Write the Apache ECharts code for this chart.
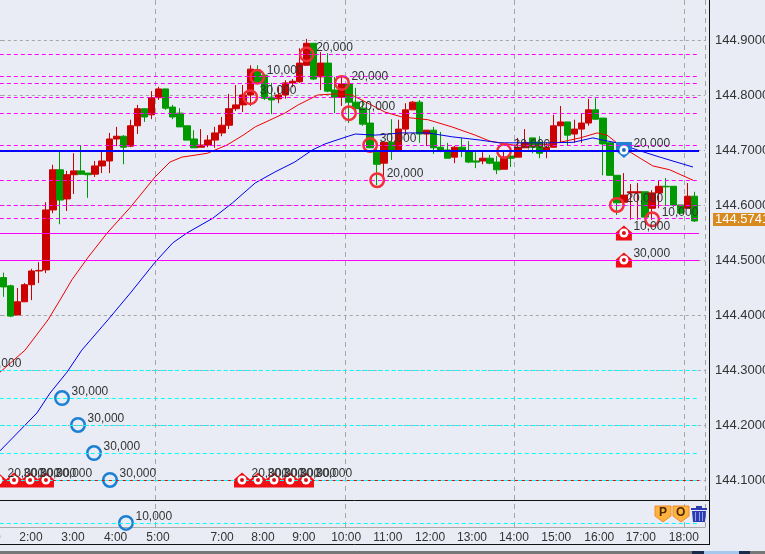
<!DOCTYPE html>
<html>
<head>
<meta charset="utf-8">
<style>
  html, body { margin: 0; padding: 0; background: #e9ecf5; overflow: hidden; width: 765px; height: 554px; }
  /* chart is wider than the window: the first bars are scrolled off to the left */
  #chart { position: absolute; left: -29px; top: 0; width: 794px; height: 554px; }
</style>
<script src="https://cdn.jsdelivr.net/npm/echarts@6/dist/echarts.min.js"></script>
</head>
<body>
<div id="chart"></div>
<script>
// bars, oldest first: [open, close, low, high] (10 minute bars, some missing)
const bars = [
  [144.468,144.451,144.433,144.477],[144.453,144.398,144.396,144.455],[144.400,144.424,144.400,144.449],
  [144.424,144.455,144.424,144.458],[144.455,144.480,144.427,144.484],[144.480,144.481,144.458,144.496],
  [144.482,144.591,144.476,144.605],[144.591,144.664,144.585,144.673],[144.664,144.609,144.565,144.698],
  [144.611,144.655,144.589,144.662],[144.655,144.662,144.620,144.694],[144.662,144.656,144.655,144.709],
  [144.658,144.655,144.613,144.658],[144.656,144.671,144.651,144.680],[144.671,144.680,144.658,144.698],
  [144.680,144.720,144.658,144.731],[144.720,144.725,144.707,144.742],[144.725,144.705,144.674,144.727],
  [144.707,144.744,144.705,144.755],[144.744,144.775,144.729,144.782],[144.775,144.760,144.751,144.775],
  [144.764,144.795,144.756,144.807],[144.795,144.811,144.791,144.815],[144.811,144.776,144.773,144.811],
  [144.778,144.760,144.756,144.782],[144.767,144.742,144.742,144.776],[144.744,144.718,144.718,144.744],
  [144.720,144.704,144.704,144.736],[144.705,144.709,144.705,144.738],[144.709,144.718,144.705,144.727],
  [144.718,144.731,144.704,144.742],[144.731,144.745,144.725,144.760],[144.745,144.775,144.738,144.802],
  [144.775,144.782,144.771,144.818],[144.782,144.800,144.769,144.818],[144.800,144.847,144.780,144.854],
  [144.845,144.822,144.822,144.854],[144.836,144.794,144.791,144.836],[144.796,144.791,144.765,144.822],
  [144.793,144.800,144.785,144.815],[144.800,144.822,144.793,144.827],[144.822,144.825,144.814,144.829],
  [144.824,144.858,144.822,144.885],[144.854,144.894,144.854,144.902],[144.894,144.829,144.827,144.894],
  [144.833,144.858,144.809,144.878],[144.858,144.807,144.805,144.876],[144.809,144.796,144.767,144.833],
  [144.796,144.820,144.780,144.834],[144.820,144.787,144.749,144.831],[144.787,144.775,144.771,144.813],
  [144.776,144.747,144.744,144.791],[144.749,144.704,144.704,144.776],[144.696,144.674,144.636,144.704],
  [144.676,144.714,144.645,144.714],[144.714,144.698,144.682,144.756],[144.700,144.738,144.700,144.755],
  [144.738,144.773,144.727,144.785],[144.773,144.787,144.773,144.789],[144.787,144.729,144.713,144.791],
  [144.729,144.736,144.707,144.736],[144.736,144.704,144.693,144.742],[144.705,144.698,144.696,144.733],
  [144.700,144.685,144.685,144.713],[144.687,144.705,144.676,144.707],[144.705,144.698,144.687,144.722],
  [144.698,144.678,144.676,144.716],[144.680,144.678,144.667,144.696],[144.680,144.685,144.674,144.696],
  [144.685,144.676,144.674,144.691],[144.678,144.664,144.656,144.689],[144.665,144.687,144.665,144.698],
  [144.689,144.685,144.669,144.698],[144.687,144.705,144.687,144.722],[144.704,144.713,144.704,144.738],
  [144.722,144.705,144.694,144.722],[144.714,144.694,144.685,144.725],[144.700,144.705,144.685,144.714],
  [144.705,144.744,144.705,144.764],[144.744,144.751,144.713,144.780],[144.751,144.727,144.709,144.751],
  [144.729,144.738,144.713,144.755],[144.738,144.749,144.713,144.767],[144.749,144.773,144.744,144.793],
  [144.773,144.756,144.755,144.794],[144.758,144.711,144.654,144.758],[144.713,144.654,144.653,144.713],
  [144.654,144.604,144.582,144.654],[144.605,144.618,144.605,144.658],[144.622,144.624,144.573,144.638],
  [144.622,144.624,144.573,144.640],[144.624,144.578,144.578,144.624],[144.594,144.622,144.573,144.627],
  [144.622,144.634,144.594,144.645],[144.634,144.633,144.600,144.649],[144.634,144.600,144.596,144.634],
  [144.600,144.585,144.585,144.600],[144.594,144.616,144.594,144.640],[144.616,144.571,144.569,144.624]
];
const leadingSlots = 4;   // bars scrolled off the left edge
const trailingSlots = 1;  // empty slot after the last bar
const gridLineBars = [22, 49, 73, 97];

// moving averages: [bar position, price]
const maFast = [
  [-0.5,144.296],[3.05,144.336],[6.3,144.391],[8,144.427],[9.7,144.464],[12,144.505],[14.7,144.549],[18,144.596],
  [21.5,144.651],[23.6,144.678],[25.3,144.687],[28.9,144.694],[31.7,144.709],[34,144.727],[35.7,144.742],[39.9,144.767],
  [41.8,144.782],[44.6,144.800],[47,144.802],[49.4,144.800],[51.7,144.785],[54.1,144.769],[56.5,144.760],[60.2,144.755],
  [63.6,144.742],[66.9,144.727],[69,144.716],[72.3,144.709],[75.4,144.707],[78.9,144.714],[81.8,144.722],[84.2,144.731],
  [85.6,144.727],[87.9,144.704],[90.3,144.685],[92.1,144.671],[94.5,144.664],[97.8,144.645]
];
const maSlow = [
  [-0.5,144.153],[4.75,144.222],[6.6,144.258],[9,144.296],[11.1,144.336],[14.8,144.391],[18,144.440],[21.5,144.496],
  [24,144.531],[26,144.549],[29.7,144.576],[32.5,144.604],[35.7,144.640],[38.5,144.660],[41.3,144.678],[43.8,144.700],
  [45.6,144.711],[48.9,144.725],[49.9,144.729],[52.7,144.727],[56.5,144.731],[60.2,144.731],[63.6,144.724],[67.6,144.718],
  [70.4,144.713],[77.1,144.713],[80.8,144.714],[83.6,144.722],[85,144.718],[87,144.713],[89.9,144.700],[93.1,144.687],[97.8,144.669]
];

// price levels
const dashedMagenta = [144.8736,144.8336,144.8209,144.7954,144.7663,144.7082,144.6972,144.6445,144.5991,144.5754];
const solidMagenta = [144.5481,144.4991];
const dashedCyan = [144.2991,144.2481,144.1990,144.1481,144.0990,144.0209];
const redLevel = 144.0990;
const blueLevel = 144.6982;
const lastPrice = 144.5741;

// order markers: [bar position, price, amount]
const redRings = [
  [35,144.796,"30,000"],[36,144.833,"10,000"],[43,144.874,"20,000"],[48,144.822,"20,000"],[49,144.767,"20,000"],
  [52,144.709,"30,000"],[53,144.645,"20,000"],[71,144.698,"20,000"],[87,144.600,"20,000"],[92,144.574,"10,000"]
];
const blueRings = [
  [-4.03,144.300,"30,000"],[8.3,144.249,"30,000"],[10.57,144.200,"30,000"],[12.83,144.149,"30,000"],
  [15.1,144.100,"30,000"],[17.37,144.022,"10,000"]
];
const houses = [
  [-0.78,144.100,"20,000"],[1.49,144.100,"30,000"],[3.76,144.100,"30,000"],[6.02,144.100,"30,000"],
  [33.83,144.100,"20,000"],[36.1,144.100,"30,000"],[38.37,144.100,"30,000"],[40.64,144.100,"30,000"],[42.9,144.100,"30,000"],
  [88,144.549,"10,000"],[88,144.500,"30,000"]
];
const shields = [[88,144.700,"20,000"]];

const yTicks = [144.1,144.2,144.3,144.4,144.5,144.6,144.7,144.8,144.9];
const xTickPos = [-2.06,3.9,9.85,15.9,21.9,31,36.8,42.6,48.6,54.5,60.5,66.45,72.4,78.4,84.5,90.4,96.5];
const xTickText = ["1:00","2:00","3:00","4:00","5:00","7:00","8:00","9:00","10:00","11:00","12:00","13:00","14:00","15:00","16:00","17:00","18:00"];

const FONT = '"Liberation Sans", Arial, sans-serif';
const RED = "#cc0000", GREEN = "#009900", TXT = "#333333";
const BAND = 7.05;
const OFFSET = 29;  // page x = canvas x - OFFSET
const slots = leadingSlots + bars.length + trailingSlots;

const chart = echarts.init(document.getElementById("chart"), null, { renderer: "canvas" });

const cats = [];
for (let i = 0; i < slots; i++) cats.push(String(i - leadingSlots));

function level(p, color, type, width) {
  return [{ coord: [-4.5, p], lineStyle: { color, type, width } }, { coord: [98.65, p] }];
}
function levels(z, data) {
  return {
    type: "line", xAxisIndex: 1, yAxisIndex: 0, data: [], z, silent: true, animation: false,
    markLine: { symbol: "none", silent: true, animation: false, label: { show: false }, data }
  };
}
function marks(data, symbol, size, color, z, extra) {
  return Object.assign({
    type: "scatter", xAxisIndex: 1, yAxisIndex: 0, data: data.map(d => [d[0], d[1]]),
    symbol, symbolSize: size, itemStyle: { color, opacity: 1 }, z, silent: true, animation: false
  }, extra || {});
}
const HOUSE = "path://M8 0L16 7V15H0V7Z";
const SHIELD = "path://M0 0H16V9L8 16L0 9Z";
const allMarks = [...redRings, ...blueRings, ...houses, ...shields];

chart.setOption({
  backgroundColor: "#e9ecf5",
  animation: false,
  textStyle: { fontFamily: FONT },
  grid: { left: OFFSET - BAND * leadingSlots, top: 0, width: BAND * slots, height: 527, outerBoundsMode: "none" },
  xAxis: [
    {
      type: "category", data: cats, position: "bottom",
      axisLine: { lineStyle: { color: "#aaaaaa" } }, axisTick: { show: false }, axisLabel: { show: false },
      splitLine: {
        show: true,
        interval: i => gridLineBars.includes(i - leadingSlots),
        lineStyle: { color: "#a6a6a6", type: [5, 4] }
      }
    },
    {
      type: "value", min: -4.5, max: 99.5, position: "bottom",
      axisLine: { show: false }, axisTick: { show: false }, splitLine: { show: false },
      axisLabel: {
        customValues: xTickPos, margin: 5, color: TXT, fontSize: 12, fontFamily: FONT,
        formatter: v => xTickText[xTickPos.indexOf(v)] || ""
      }
    }
  ],
  yAxis: {
    type: "value", position: "right", offset: 4, min: 144.0145, max: 144.9727,
    axisLine: { show: false },
    axisTick: { show: true, inside: true, length: 4, customValues: yTicks, lineStyle: { color: "#a6a6a6" } },
    axisLabel: {
      customValues: yTicks, margin: 6, color: TXT, fontSize: 13, fontFamily: FONT, padding: [2, 0, 0, 0],
      formatter: v => v.toFixed(4)
    },
    splitLine: { show: true, customValues: yTicks, lineStyle: { color: "#a6a6a6", type: [3, 3] } }
  },
  series: [
    levels(1, [
      ...solidMagenta.map(p => level(p, "#ff00ff", "solid", 1)),
      level(redLevel, "#ff0000", "solid", 1),
      [{ coord: [-4.5, lastPrice], lineStyle: { color: "#d08a2e", type: "solid", width: 1 } }, { coord: [99.9, lastPrice] }],
      ...dashedMagenta.map(p => level(p, "#ff00ff", [4, 3], 1)),
      ...dashedCyan.map(p => level(p, "#00ffff", [4, 3], 1))
    ]),
    {
      type: "candlestick", xAxisIndex: 0, yAxisIndex: 0, z: 2,
      data: [...Array(leadingSlots).fill("-"), ...bars, ...Array(trailingSlots).fill("-")],
      barWidth: 7, silent: true, animation: false,
      itemStyle: { color: RED, color0: GREEN, borderColor: RED, borderColor0: GREEN, borderWidth: 1 }
    },
    levels(3, [level(blueLevel, "#0000ff", "solid", 2)]),
    { type: "line", xAxisIndex: 1, yAxisIndex: 0, data: maFast, z: 3, symbol: "none", silent: true, animation: false, lineStyle: { color: "#ee0000", width: 1 } },
    { type: "line", xAxisIndex: 1, yAxisIndex: 0, data: maSlow, z: 3, symbol: "none", silent: true, animation: false, lineStyle: { color: "#0000ee", width: 1 } },
    marks(redRings, "circle", 13.5, "transparent", 4, { itemStyle: { color: "transparent", borderColor: "#f2303a", borderWidth: 2.5, opacity: 1 } }),
    marks(blueRings, "circle", 13.5, "transparent", 4, { itemStyle: { color: "transparent", borderColor: "#1d7fd2", borderWidth: 2.5, opacity: 1 } }),
    marks(houses, HOUSE, [16, 15], "#f00f14", 4),
    marks(houses, "circle", 9, "#ffffff", 5),
    marks(houses, "circle", 4, "#d8101a", 6),
    marks(shields, SHIELD, [16, 16], "#1f80d4", 4),
    marks(shields, "circle", 9, "#ffffff", 5),
    marks(shields, "circle", 4, "#1f6fb8", 6),
    {
      type: "scatter", xAxisIndex: 1, yAxisIndex: 0, z: 7, silent: true, animation: false,
      data: allMarks.map(d => ({ value: [d[0], d[1]], amount: d[2] })),
      symbolSize: 1, itemStyle: { color: "transparent", opacity: 1 },
      label: {
        show: true, position: [10, -12], color: TXT, opacity: 1, fontSize: 12, fontFamily: FONT,
        formatter: p => p.data.amount
      }
    }
  ],
  graphic: [{
    type: "group", x: OFFSET, y: 0, z: 20,
    children: [
      { type: "line", z: 20, shape: { x1: 0, y1: 500.5, x2: 709, y2: 500.5 }, style: { stroke: "#111", lineWidth: 1 } },
      { type: "line", z: 20, shape: { x1: 0, y1: 544.5, x2: 709, y2: 544.5 }, style: { stroke: "#111", lineWidth: 1 } },
      { type: "line", z: 20, shape: { x1: 709.5, y1: 0, x2: 709.5, y2: 545 }, style: { stroke: "#111", lineWidth: 1 } },
      { type: "rect", z: 20, shape: { x: -OFFSET, y: 551, width: 794, height: 3 }, style: { fill: "#777" } },
      { type: "rect", z: 21, shape: { x: 692, y: 551, width: 12, height: 3 }, style: { fill: "#1a2a4a" } },
      { type: "rect", z: 21, shape: { x: 704, y: 551, width: 35, height: 3 }, style: { fill: "#a4c8ee" } },
      { type: "rect", z: 21, shape: { x: 739, y: 551, width: 11, height: 3 }, style: { fill: "#1a2a4a" } },
      // last price badge
      { type: "rect", z: 20, shape: { x: 713, y: 213, width: 52, height: 13 }, style: { fill: "#d88a1e" } },
      { type: "text", z: 21, style: { x: 715, y: 213, text: lastPrice.toFixed(4), fill: "#fff", font: "13px " + FONT } },
      // P / O buttons
      { type: "polygon", z: 20, shape: { points: [[655, 506], [671, 506], [671, 516], [663, 522], [655, 516]] }, style: { fill: "#ffb23e", stroke: "#f08a2a" } },
      { type: "text", z: 21, style: { x: 659, y: 507, text: "P", fill: "#4a2a00", font: "bold 12px " + FONT } },
      { type: "polygon", z: 20, shape: { points: [[673, 506], [689, 506], [689, 516], [681, 522], [673, 516]] }, style: { fill: "#ffb23e", stroke: "#f08a2a" } },
      { type: "text", z: 21, style: { x: 676, y: 507, text: "O", fill: "#4a2a00", font: "bold 12px " + FONT } },
      // trash button
      { type: "rect", z: 20, shape: { x: 691, y: 508, width: 16, height: 2 }, style: { fill: "#2c3cb0" } },
      { type: "rect", z: 20, shape: { x: 696, y: 506, width: 6, height: 2 }, style: { fill: "#2c3cb0" } },
      { type: "polygon", z: 20, shape: { points: [[692, 511], [706, 511], [705, 522], [693, 522]] }, style: { fill: "#2c3cb0" } },
      { type: "rect", z: 21, shape: { x: 695, y: 512, width: 1, height: 9 }, style: { fill: "#8ea0e8" } },
      { type: "rect", z: 21, shape: { x: 699, y: 512, width: 1, height: 9 }, style: { fill: "#8ea0e8" } },
      { type: "rect", z: 21, shape: { x: 702, y: 512, width: 1, height: 9 }, style: { fill: "#8ea0e8" } }
    ]
  }]
});
</script>
</body>
</html>
